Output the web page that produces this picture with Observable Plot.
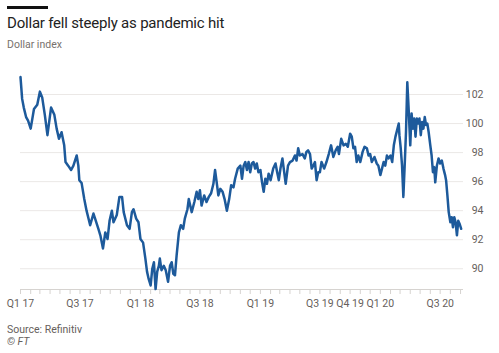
<!DOCTYPE html>
<html>
<head>
<meta charset="utf-8">
<script src="https://cdn.jsdelivr.net/npm/d3@7"></script>
<script src="https://cdn.jsdelivr.net/npm/@observablehq/plot@0.6"></script>
<style>
  html, body { margin: 0; padding: 0; background: #ffffff; }
  #page { position: relative; width: 499px; height: 353px; overflow: hidden; font-family: Roboto, "Open Sans", sans-serif; }
  #bar { position: absolute; left: 7px; top: 6px; width: 41px; height: 3px; background: #111; }
  #title { position: absolute; left: 7px; top: 14.5px; font-size: 15px; line-height: 16px; letter-spacing: -0.2px; color: #222; white-space: nowrap; }
  #subtitle { position: absolute; left: 7px; top: 38.5px; font-size: 10.5px; line-height: 11px; color: #77716d; white-space: nowrap; }
  #chart { position: absolute; left: 0; top: 55px; }
  #source { position: absolute; left: 7px; top: 325px; font-size: 10.5px; line-height: 10.5px; color: #66605c; white-space: nowrap; }
  #ft { position: absolute; left: 7px; top: 337px; font-size: 10.5px; line-height: 10.5px; color: #66605c; font-style: italic; white-space: nowrap; }
</style>
</head>
<body>
<div id="page">
  <div id="bar"></div>
  <div id="title">Dollar fell steeply as pandemic hit</div>
  <div id="subtitle">Dollar index</div>
  <div id="chart"></div>
  <div id="source">Source: Refinitiv</div>
  <div id="ft">© FT</div>
</div>
<script>
const dates = [
  "2017-01-01","2017-01-06","2017-01-11","2017-01-18","2017-01-24","2017-02-01","2017-02-11","2017-02-21",
  "2017-03-01","2017-03-08","2017-03-16","2017-03-24","2017-04-04","2017-04-14","2017-04-21","2017-04-28",
  "2017-05-06","2017-05-14","2017-05-18","2017-05-26","2017-06-04","2017-06-11","2017-06-21","2017-06-26",
  "2017-06-29","2017-07-06","2017-07-14","2017-07-21","2017-08-01","2017-08-11","2017-08-16","2017-08-26",
  "2017-09-01","2017-09-09","2017-09-16","2017-09-23","2017-09-29","2017-10-06","2017-10-11","2017-10-21",
  "2017-10-29","2017-11-06","2017-11-11","2017-11-21","2017-11-29","2017-12-06","2017-12-11","2017-12-19",
  "2017-12-26","2018-01-01","2018-01-09","2018-01-16","2018-01-21","2018-01-26","2018-02-01","2018-02-06",
  "2018-02-11","2018-02-16","2018-02-21","2018-02-26","2018-03-01","2018-03-06","2018-03-13","2018-03-19",
  "2018-03-26","2018-04-01","2018-04-06","2018-04-11","2018-04-16","2018-04-21","2018-04-28","2018-05-04",
  "2018-05-11","2018-05-16","2018-05-24","2018-05-28","2018-06-06","2018-06-14","2018-06-21","2018-06-26",
  "2018-07-01","2018-07-06","2018-07-14","2018-07-21","2018-07-28","2018-08-04","2018-08-11","2018-08-16",
  "2018-08-21","2018-08-26","2018-09-01","2018-09-08","2018-09-14","2018-09-21","2018-09-28","2018-10-04",
  "2018-10-11","2018-10-16","2018-10-24","2018-11-01","2018-11-06","2018-11-11","2018-11-16","2018-11-21",
  "2018-11-26","2018-12-01","2018-12-06","2018-12-11","2018-12-16","2018-12-21","2018-12-26","2019-01-01",
  "2019-01-06","2019-01-11","2019-01-16","2019-01-21","2019-01-26","2019-02-01","2019-02-09","2019-02-16",
  "2019-02-21","2019-02-26","2019-03-03","2019-03-09","2019-03-13","2019-03-19","2019-03-26","2019-04-01",
  "2019-04-09","2019-04-16","2019-04-21","2019-04-26","2019-05-01","2019-05-09","2019-05-16","2019-05-21",
  "2019-05-26","2019-06-01","2019-06-06","2019-06-11","2019-06-16","2019-06-21","2019-06-26","2019-07-01",
  "2019-07-06","2019-07-14","2019-07-21","2019-07-28","2019-08-04","2019-08-11","2019-08-18","2019-08-24",
  "2019-08-28","2019-09-04","2019-09-11","2019-09-18","2019-09-24","2019-10-01","2019-10-06","2019-10-11",
  "2019-10-16","2019-10-21","2019-10-26","2019-11-01","2019-11-08","2019-11-14","2019-11-21","2019-11-26",
  "2019-12-01","2019-12-06","2019-12-14","2019-12-21","2019-12-26","2020-01-01","2020-01-06","2020-01-11",
  "2020-01-16","2020-01-21","2020-01-26","2020-02-01","2020-02-06","2020-02-11","2020-02-16","2020-02-21",
  "2020-02-26","2020-02-28","2020-03-03","2020-03-07","2020-03-11","2020-03-15","2020-03-19","2020-03-23",
  "2020-03-27","2020-04-01","2020-04-05","2020-04-09","2020-04-13","2020-04-17","2020-04-21","2020-04-26",
  "2020-04-29","2020-05-03","2020-05-07","2020-05-11","2020-05-15","2020-05-19","2020-05-23","2020-05-27",
  "2020-06-01","2020-06-05","2020-06-09","2020-06-13","2020-06-16","2020-06-21","2020-06-26","2020-07-01",
  "2020-07-06","2020-07-11","2020-07-16","2020-07-19","2020-07-23","2020-07-27","2020-08-01","2020-08-05",
  "2020-08-09","2020-08-13","2020-08-17","2020-08-21","2020-08-25","2020-08-29","2020-09-03"
];
const values = [
  103.2,101.7,101.1,100.45,100.2,99.65,101.0,101.3,
  102.2,101.8,100.6,99.2,101.1,100.6,99.65,98.95,
  99.4,98.5,97.35,97.1,96.8,97.1,97.8,97.1,
  96.1,95.9,94.8,94.0,93.0,93.8,93.45,92.75,
  92.3,91.4,92.5,92.05,93.3,94.0,93.2,93.7,
  94.95,94.95,93.9,93.0,92.75,93.9,94.1,93.45,
  93.2,92.05,91.8,90.7,89.8,89.3,88.85,90.0,
  90.45,88.6,89.8,90.2,90.7,89.9,90.2,89.9,
  89.1,90.2,90.45,89.65,89.55,90.9,92.5,93.0,
  92.75,93.45,94.1,94.8,93.9,94.6,95.3,94.8,
  95.4,94.35,95.05,94.6,94.95,95.2,95.85,96.8,
  95.95,95.05,95.5,95.3,94.8,94.0,94.8,95.75,
  95.6,96.2,96.9,97.1,96.2,97.1,97.35,96.8,
  97.35,96.65,97.25,97.35,96.9,97.25,96.65,96.8,
  95.95,95.3,96.2,95.85,96.55,96.1,96.9,97.25,
  96.65,96.1,96.9,97.6,96.9,95.85,97.1,97.35,
  97.45,97.8,97.45,98.3,97.8,97.9,97.6,98.05,
  98.15,97.9,96.9,97.1,97.35,96.1,96.65,96.65,
  97.35,96.9,97.35,97.9,98.5,97.7,98.15,98.4,
  97.9,98.95,98.5,98.6,98.4,99.3,99.1,98.3,
  98.4,97.35,97.8,97.35,98.05,98.4,98.3,97.8,
  97.9,97.35,97.7,97.25,97.1,96.45,96.9,97.35,
  97.1,97.8,97.6,97.8,97.35,98.5,99.1,99.55,
  100.0,99.2,98.3,97.1,94.95,97.1,99.4,102.85,
  101.05,98.5,100.7,99.65,100.35,99.1,100.35,100.0,
  100.35,99.2,100.1,99.65,100.45,99.9,100.0,99.4,
  98.5,97.8,96.65,97.0,95.95,97.1,97.6,97.25,
  97.45,96.9,96.45,96.1,95.05,93.9,93.2,93.55,
  92.85,93.55,93.2,92.3,93.3,93.1,92.75
];
const quarterTickDates = ["2017-01-01","2017-07-01","2018-01-01","2018-07-01","2019-01-01","2019-07-01","2019-10-01","2020-01-01","2020-07-01"];
const quarterTickLabels = ["Q1 17","Q3 17","Q1 18","Q3 18","Q1 19","Q3 19","Q4 19","Q1 20","Q3 20"];
const yTicks = [90, 92, 94, 96, 98, 100, 102];

const data = dates.map((d, i) => ({date: new Date(d), value: values[i]}));
const xStart = new Date("2017-01-01");
const xEnd = new Date("2020-09-10");
const yMin = 88.57, yMax = 103.38;
const qDates = quarterTickDates.map(d => new Date(d));
const labelOf = new Map(qDates.map((d, i) => [+d, quarterTickLabels[i]]));
const monthTicks = d3.utcMonth.range(xStart, xEnd);

const chart = Plot.plot({
  width: 499,
  height: 262,
  marginLeft: 20,
  marginRight: 36,
  marginTop: 19,
  marginBottom: 28,
  style: {fontFamily: "Roboto, sans-serif", fontSize: "10.5px", color: "#66605c", background: "transparent"},
  x: {type: "utc", domain: [xStart, xEnd]},
  y: {domain: [yMin, yMax], axis: null},
  marks: [
    Plot.ruleY(yTicks, {stroke: "#ebe8e6", strokeWidth: 1}),
    Plot.ruleY([yMin], {stroke: "#d6d3d0", strokeWidth: 1}),
    Plot.axisX({ticks: monthTicks, tickSize: 5, tickFormat: () => "", stroke: "#d6d3d0", strokeOpacity: 1}),
    Plot.axisX({ticks: qDates, tickSize: 0, tickPadding: 10, tickFormat: d => labelOf.get(+d), fill: "#66605c"}),
    Plot.line(data, {x: "date", y: "value", stroke: "#1d5a9b", strokeWidth: 2.5, strokeLinejoin: "round"}),
    Plot.text(yTicks, {x: () => xEnd, y: d => d, text: d => String(d), textAnchor: "end", dx: 20, fill: "#66605c"})
  ]
});
document.getElementById("chart").appendChild(chart);
</script>
</body>
</html>
